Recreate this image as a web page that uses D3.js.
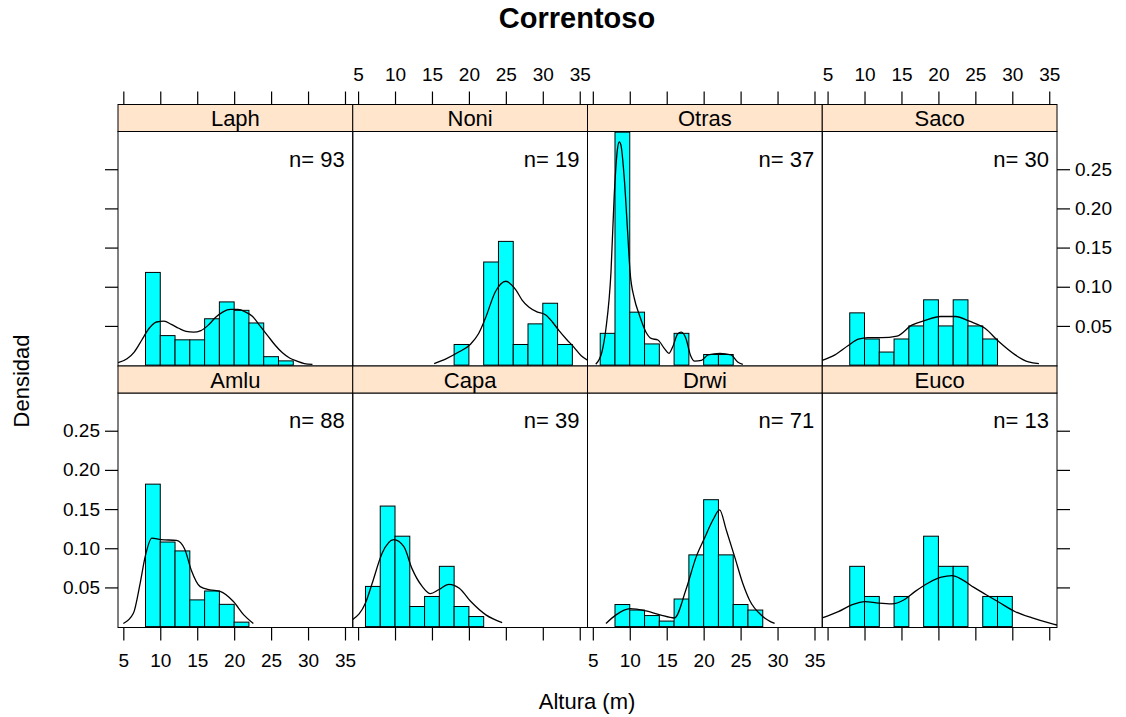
<!DOCTYPE html>
<html>
<head>
<meta charset="utf-8">
<script src="https://cdn.jsdelivr.net/npm/d3@7"></script>
<style>
  body { margin: 0; background: #fff; }
  svg { font-family: "Liberation Sans", Arial, sans-serif; }
</style>
</head>
<body>
<script>
// panel order as drawn: top row then bottom row
const topRow = ['Laph', 'Noni', 'Otras', 'Saco']
const bottomRow = ['Amlu', 'Capa', 'Drwi', 'Euco']

// histogram bins (width 2 m), start of each bin
const binStarts = [6, 8, 10, 12, 14, 16, 18, 20, 22, 24, 26, 28, 30, 32]
const binWidth = 2

// counts per bin
const countsLaph  = [0, 22, 7, 6, 6, 11, 15, 13, 10, 2, 1, 0, 0, 0]
const countsNoni  = [0, 0, 0, 0, 0, 0, 1, 0, 5, 6, 1, 2, 3, 1]
const countsOtras = [3, 22, 5, 2, 0, 3, 0, 1, 1, 0, 0, 0, 0, 0]
const countsSaco  = [0, 4, 2, 1, 2, 3, 5, 3, 5, 3, 2, 0, 0, 0]
const countsAmlu  = [0, 32, 19, 17, 6, 8, 5, 1, 0, 0, 0, 0, 0, 0]
const countsCapa  = [4, 12, 9, 2, 3, 6, 2, 1, 0, 0, 0, 0, 0, 0]
const countsDrwi  = [0, 4, 3, 2, 1, 5, 13, 23, 13, 4, 3, 0, 0, 0]
const countsEuco  = [0, 2, 1, 0, 1, 0, 3, 2, 2, 0, 1, 1, 0, 0]

// density curves [altura, densidad]
const densLaph = [[4.3,0.003],[5.5,0.008],[6.5,0.017],[7.5,0.032],[8.5,0.047],[9.5,0.055],[10.5,0.056],[11.5,0.052],[12.5,0.047],[13.5,0.043],[14.5,0.042],[15.5,0.044],[16.5,0.051],[17.5,0.061],[18.5,0.068],[19.5,0.071],[20.5,0.071],[21.5,0.068],[22.5,0.062],[23.5,0.050],[24.5,0.038],[25.5,0.026],[26.5,0.016],[27.5,0.009],[28.5,0.005],[29.5,0.002],[30.6,0.001]]
const densNoni = [[15.3,0.002],[16.9,0.008],[18.5,0.016],[20.25,0.027],[21.3,0.040],[22.2,0.059],[23.6,0.094],[25.0,0.107],[26.35,0.096],[27.2,0.083],[28.1,0.074],[29.2,0.068],[30.4,0.064],[31.3,0.055],[32.2,0.044],[33.2,0.033],[34.2,0.023],[35.2,0.012],[36.1,0.006]]
const densOtras = [[5.4,0.001],[6.24,0.017],[6.78,0.047],[7.46,0.119],[7.9,0.217],[8.35,0.277],[8.58,0.285],[8.8,0.281],[9.26,0.238],[9.71,0.170],[10.04,0.119],[10.62,0.085],[11.3,0.064],[12.2,0.042],[12.9,0.034],[13.8,0.032],[14.7,0.021],[15.3,0.015],[15.8,0.023],[16.5,0.040],[16.96,0.042],[17.6,0.034],[18.2,0.013],[18.8,0.005],[19.7,0.006],[20.6,0.013],[22.2,0.015],[23.7,0.013],[24.6,0.004],[25.3,0.001]]
const densSaco = [[4.28,0.006],[6.0,0.013],[7.8,0.025],[9.17,0.033],[10.5,0.035],[12.3,0.035],[14.4,0.037],[16.4,0.051],[18.2,0.057],[20.26,0.062],[22.3,0.062],[24.2,0.056],[26.3,0.047],[28.17,0.030],[30.4,0.013],[32.2,0.004],[33.6,0.002]]
const densAmlu = [[5.0,0.004],[6.36,0.017],[7.27,0.055],[7.95,0.089],[8.86,0.113],[10.1,0.111],[12.2,0.110],[13.3,0.099],[14.2,0.072],[15.4,0.051],[16.7,0.047],[18.1,0.045],[19.9,0.032],[21.3,0.015],[22.6,0.004]]
const densCapa = [[4.28,0.009],[6.0,0.030],[6.9,0.055],[8.27,0.094],[9.85,0.111],[11.2,0.102],[12.3,0.074],[13.7,0.051],[14.8,0.042],[15.9,0.047],[17.3,0.054],[18.7,0.049],[20.26,0.032],[22.3,0.015],[24.5,0.005]]
const densDrwi = [[6.78,0.004],[8.14,0.015],[10.04,0.023],[12.2,0.020],[14.1,0.015],[16.05,0.011],[17.6,0.047],[18.99,0.089],[20.12,0.113],[21.25,0.136],[22.16,0.149],[23.07,0.123],[24.2,0.089],[25.3,0.055],[26.2,0.034],[28.0,0.013],[29.6,0.004]]
const densEuco = [[4.28,0.011],[6.45,0.019],[8.35,0.028],[10.07,0.032],[11.9,0.030],[13.7,0.029],[15.3,0.034],[16.86,0.045],[18.7,0.056],[20.4,0.063],[21.85,0.065],[23.2,0.060],[24.8,0.050],[26.4,0.041],[28.2,0.031],[30.4,0.019],[32.7,0.011],[35.2,0.004],[36.05,0.002]]

const xTicks = [5, 10, 15, 20, 25, 30, 35]
const yTicks = [0.05, 0.10, 0.15, 0.20, 0.25]

const counts = { Laph: countsLaph, Noni: countsNoni, Otras: countsOtras, Saco: countsSaco,
                 Amlu: countsAmlu, Capa: countsCapa, Drwi: countsDrwi, Euco: countsEuco }
const dens = { Laph: densLaph, Noni: densNoni, Otras: densOtras, Saco: densSaco,
               Amlu: densAmlu, Capa: densCapa, Drwi: densDrwi, Euco: densEuco }

// layout
const width = 1126, height = 717
const left = 118, right = 1057
const colW = (right - left) / 4
const stripH = 27, panelH = 234.5
const rowTop = [104.5, 366]  // top of strip for each row

const svg = d3.select('body').append('svg')
  .attr('width', width)
  .attr('height', height)

const x = d3.scaleLinear().domain([4.28, 36.05]).range([0, colW])
const y = d3.scaleLinear().domain([-0.00115, 0.29815]).range([panelH, 0])

const line = d3.line()
  .x(d => x(d[0]))
  .y(d => y(d[1]))
  .curve(d3.curveMonotoneX)

function drawPanel(name, row, col) {
  const px = left + col * colW
  const stripTop = rowTop[row]
  const py = stripTop + stripH
  const data = counts[name]
  const n = d3.sum(data)

  const g = svg.append('g').attr('transform', `translate(${px}, ${py})`)

  const clipId = 'clip-' + name
  g.append('clipPath').attr('id', clipId)
    .append('rect').attr('width', colW).attr('height', panelH)

  const inner = g.append('g').attr('clip-path', `url(#${clipId})`)

  // bars
  inner.selectAll('rect.bar')
    .data(binStarts.map((b, i) => ({ x0: b, dens: data[i] / (n * binWidth) })).filter(d => d.dens > 0))
    .enter().append('rect')
    .attr('class', 'bar')
    .attr('x', d => x(d.x0))
    .attr('y', d => y(d.dens))
    .attr('width', d => x(d.x0 + binWidth) - x(d.x0))
    .attr('height', d => y(0) - y(d.dens))
    .attr('fill', '#00ffff')
    .attr('stroke', '#000')
    .attr('stroke-width', 1)

  // density line
  inner.append('path')
    .datum(dens[name])
    .attr('d', line)
    .attr('fill', 'none')
    .attr('stroke', '#000')
    .attr('stroke-width', 1.3)

  // panel box
  g.append('rect')
    .attr('width', colW).attr('height', panelH)
    .attr('fill', 'none').attr('stroke', '#000')

  g.append('text')
    .attr('x', colW - 8)
    .attr('y', 35)
    .attr('text-anchor', 'end')
    .attr('font-size', 22)
    .text('n= ' + n)

  // strip
  svg.append('rect')
    .attr('x', px).attr('y', stripTop)
    .attr('width', colW).attr('height', stripH)
    .attr('fill', '#ffe5cc').attr('stroke', '#000')
  svg.append('text')
    .attr('x', px + colW / 2)
    .attr('y', stripTop + 21.5)
    .attr('text-anchor', 'middle')
    .attr('font-size', 22)
    .text(name)

  // bottom ticks (labels on columns 1 and 3), only bottom row
  if (row === 1) {
    const ax = d3.axisBottom(x).tickValues(xTicks).tickSize(13).tickPadding(13)
      .tickFormat(col % 2 === 0 ? d3.format('d') : () => '')
    const a = svg.append('g').attr('transform', `translate(${px}, ${py + panelH})`).call(ax)
    styleAxis(a)
  }
  // top ticks (labels on columns 2 and 4), only top row
  if (row === 0) {
    const ax = d3.axisTop(x).tickValues(xTicks).tickSize(13).tickPadding(11)
      .tickFormat(col % 2 === 1 ? d3.format('d') : () => '')
    const a = svg.append('g').attr('transform', `translate(${px}, ${stripTop})`).call(ax)
    styleAxis(a)
  }
  // left ticks, labels on bottom row
  if (col === 0) {
    const ax = d3.axisLeft(y).tickValues(yTicks).tickSize(13).tickPadding(5)
      .tickFormat(row === 1 ? d3.format('.2f') : () => '')
    const a = svg.append('g').attr('transform', `translate(${px}, ${py})`).call(ax)
    styleAxis(a)
  }
  // right ticks, labels on top row
  if (col === 3) {
    const ax = d3.axisRight(y).tickValues(yTicks).tickSize(13).tickPadding(5)
      .tickFormat(row === 0 ? d3.format('.2f') : () => '')
    const a = svg.append('g').attr('transform', `translate(${px + colW}, ${py})`).call(ax)
    styleAxis(a)
  }
}

function styleAxis(a) {
  a.select('.domain').remove()
  a.selectAll('line').attr('stroke', '#000').attr('stroke-width', 1.2)
  a.selectAll('text')
    .attr('fill', '#000')
    .attr('font-size', 19)
    .attr('font-family', '"Liberation Sans", Arial, sans-serif')
}

topRow.forEach((name, i) => drawPanel(name, 0, i))
bottomRow.forEach((name, i) => drawPanel(name, 1, i))

// titles
svg.append('text')
  .attr('x', 577).attr('y', 28)
  .attr('text-anchor', 'middle')
  .attr('font-size', 29)
  .attr('font-weight', 'bold')
  .text('Correntoso')

svg.append('text')
  .attr('x', 587).attr('y', 709)
  .attr('text-anchor', 'middle')
  .attr('font-size', 22)
  .text('Altura (m)')

svg.append('text')
  .attr('transform', 'translate(29, 381) rotate(-90)')
  .attr('text-anchor', 'middle')
  .attr('font-size', 22)
  .text('Densidad')
</script>
</body>
</html>
